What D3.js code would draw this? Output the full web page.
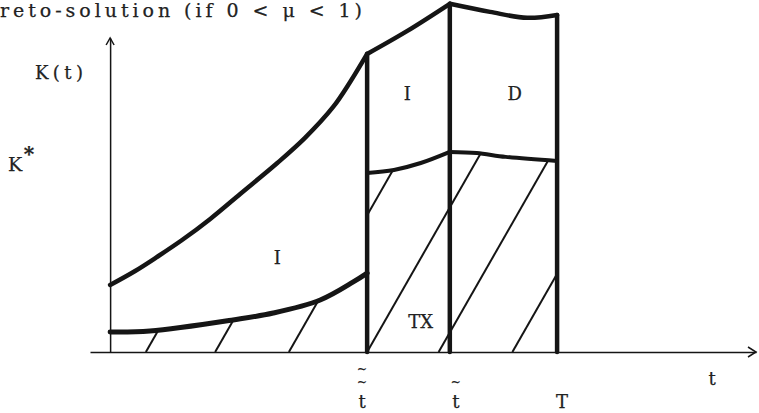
<!DOCTYPE html>
<html>
<head>
<meta charset="utf-8">
<script src="https://cdn.jsdelivr.net/npm/d3@7"></script>
<style>
  html, body { margin: 0; padding: 0; background: #fff; }
  svg { display: block; }
  text { font-family: "DejaVu Serif", "Liberation Serif", serif; fill: #222; stroke: #222; stroke-width: 0.25px; }
</style>
</head>
<body>
<svg id="chart" width="759" height="413"></svg>
<script>
// ---- data (t on the horizontal axis, K on the vertical axis) ----
const title = "reto-solution (if 0 < \u03bc < 1)";

// switching times on the t axis
const tickT = [5.75, 7.6, 10];
const tickLabels = ["t", "t", "T"];
const tickTildes = [2, 1, 0];

// steady-state capital level
const kStar = 1;

// upper boundary of K(t), piecewise
const upperLeftT = [0, 0.56, 1.05, 1.61, 2.24, 2.91, 3.74, 4.36, 4.99, 5.37, 5.75];
const upperLeftK = [0.349, 0.422, 0.495, 0.583, 0.693, 0.823, 0.984, 1.115, 1.276, 1.406, 1.552];
const upperMidT = [5.75, 6.65, 7.6];
const upperMidK = [1.552, 1.672, 1.813];
const upperRightT = [7.6, 8.5, 9.33, 10];
const upperRightK = [1.813, 1.771, 1.740, 1.755];

// lower (taxed) boundary
const lowerLeftT = [0, 0.89, 2.75, 3.65, 4.70, 5.44, 5.75];
const lowerLeftK = [0.104, 0.109, 0.167, 0.203, 0.271, 0.365, 0.411];
const middleLeftT = [5.75, 6.35, 6.95, 7.6];
const middleLeftK = [0.932, 0.948, 0.984, 1.042];
const middleRightT = [7.6, 8.2, 8.85, 10];
const middleRightK = [1.042, 1.036, 1.016, 0.995];

// hatching: feet of the parallel lines on the t axis and their slope dK/dt
const hatchT = [0.8, 2.35, 4.0, 5.75, 7.35, 9.0];
const hatchSlope = 0.407;

// region labels
const regionLabels = ["I", "I", "D", "TX"];
const regionT = [3.74, 6.65, 9.05, 6.95];
const regionK = [0.46, 1.31, 1.31, 0.125];

// ---- drawing ----
const svg = d3.select("#chart");
const x = d3.scaleLinear().domain([-0.45, 14.45]).range([90, 756]);
const y = d3.scaleLinear().domain([0, 1.635]).range([352, 38]);

const zip = (ts, ks) => ts.map((t, i) => [t, ks[i]]);
const smooth = d3.line().x(d => x(d[0])).y(d => y(d[1])).curve(d3.curveCatmullRom.alpha(0.5));
const straight = d3.line().x(d => x(d[0])).y(d => y(d[1]));

const ink = "#151515";

// title, spaced like typewriter text
svg.append("text")
  .attr("x", 0).attr("y", 17)
  .attr("textLength", 362).attr("lengthAdjust", "spacing")
  .style("font-size", "19px")
  .text(title);

// axes (no ticks)
const xAxis = d3.axisBottom(x).tickValues([]).tickSize(0).tickSizeOuter(0);
const yAxis = d3.axisLeft(y).tickValues([]).tickSize(0).tickSizeOuter(0);
svg.append("g").attr("transform", `translate(0,${y(0)})`).call(xAxis)
  .select(".domain").attr("stroke", ink).attr("stroke-width", 1.5);
svg.append("g").attr("transform", `translate(${x(0)},0)`).call(yAxis)
  .select(".domain").attr("stroke", ink).attr("stroke-width", 1.5);

// arrowheads
const x1 = x.range()[1];
svg.append("path")
  .attr("d", `M${x1 - 8},${y(0) - 5}L${x1},${y(0)}L${x1 - 8},${y(0) + 5}`)
  .attr("fill", "none").attr("stroke", ink).attr("stroke-width", 1.5);
const yTop = y.range()[1];
svg.append("path")
  .attr("d", `M${x(0) - 4},${yTop + 7}L${x(0)},${yTop}L${x(0) + 4},${yTop + 7}`)
  .attr("fill", "none").attr("stroke", ink).attr("stroke-width", 1.5);

// clip region: area under the taxed boundary from 0 to T
const region = [[0, 0]]
  .concat(zip(lowerLeftT, lowerLeftK))
  .concat(zip(middleLeftT, middleLeftK))
  .concat(zip(middleRightT, middleRightK).slice(1))
  .concat([[tickT[2], 0]]);
svg.append("clipPath").attr("id", "taxed")
  .append("path").attr("d", straight(region) + "Z");

// hatch lines
svg.append("g").attr("clip-path", "url(#taxed)")
  .selectAll("line").data(hatchT).join("line")
  .attr("x1", d => x(d)).attr("y1", y(0))
  .attr("x2", d => x(d + 6)).attr("y2", d => y(6 * hatchSlope))
  .attr("stroke", ink).attr("stroke-width", 2);

// boundary curves
const curves = [
  [zip(upperLeftT, upperLeftK), 4.5],
  [zip(upperMidT, upperMidK), 4.5],
  [zip(upperRightT, upperRightK), 4.5],
  [zip(lowerLeftT, lowerLeftK), 5],
  [zip(middleLeftT, middleLeftK), 4],
  [zip(middleRightT, middleRightK), 4]
];
curves.forEach(([pts, w]) => {
  svg.append("path").attr("d", smooth(pts))
    .attr("fill", "none").attr("stroke", ink)
    .attr("stroke-width", w).attr("stroke-linejoin", "round").attr("stroke-linecap", "round");
});

// vertical switching lines up to the upper boundary
const topK = [upperLeftK[upperLeftK.length - 1], upperMidK[upperMidK.length - 1], upperRightK[upperRightK.length - 1]];
svg.append("g").selectAll("line").data(tickT).join("line")
  .attr("x1", d => x(d)).attr("x2", d => x(d))
  .attr("y1", y(0)).attr("y2", (d, i) => y(topK[i]))
  .attr("stroke", ink).attr("stroke-width", 4.5).attr("stroke-linecap", "round");

// tick labels, with their tildes stacked above in one text element
const tickDx = [-5, 6, 5];
const ticks = svg.append("g").selectAll("g").data(tickT).join("g")
  .attr("transform", (d, i) => `translate(${x(d) + tickDx[i]},0)`);
ticks.append("text").attr("y", 408).attr("text-anchor", "middle")
  .style("font-size", "18px").text((d, i) => tickLabels[i]);
ticks.filter((d, i) => tickTildes[i] > 0).each(function (d) {
  const n = tickTildes[tickT.indexOf(d)];
  const tx = d3.select(this).append("text")
    .attr("text-anchor", "middle").style("font-size", "12px");
  for (let k = n - 1; k >= 0; k--) {
    tx.append("tspan").attr("x", 0).attr("y", 386 - k * 13).text("~");
  }
});

// axis names
svg.append("text").attr("x", 712).attr("y", 385).attr("text-anchor", "middle")
  .style("font-size", "18px").text("t");
svg.append("text").attr("x", 35).attr("y", 79)
  .attr("textLength", 48).attr("lengthAdjust", "spacing")
  .style("font-size", "18px").text("K(t)");
svg.append("text").attr("x", 15).attr("y", y(kStar) + 11).attr("text-anchor", "middle")
  .style("font-size", "19px").text("K");
svg.append("text").attr("x", 29).attr("y", y(kStar) + 1).attr("text-anchor", "middle")
  .style("font-size", "20px").style("font-weight", "bold").text("*");

// region labels
svg.append("g").selectAll("text").data(regionLabels).join("text")
  .attr("x", (d, i) => x(regionT[i])).attr("y", (d, i) => y(regionK[i]))
  .attr("text-anchor", "middle").style("font-size", "18px")
  .text(d => d);
</script>
</body>
</html>
